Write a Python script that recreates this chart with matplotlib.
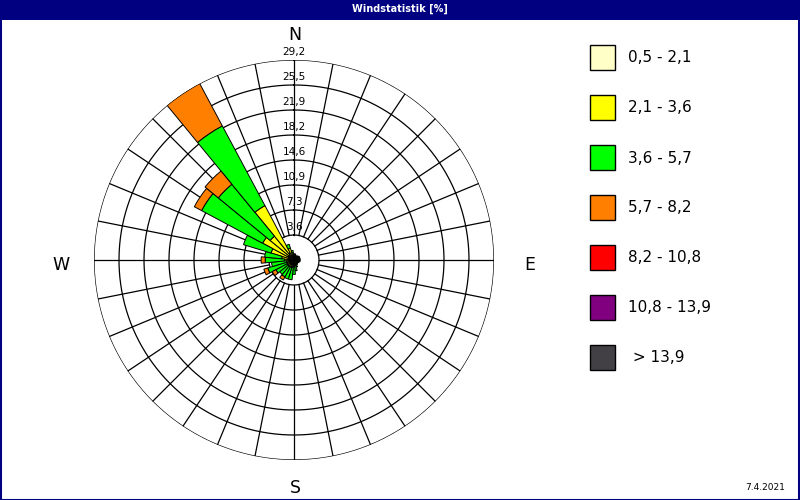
import matplotlib
matplotlib.use('Agg')
import matplotlib.pyplot as plt
import numpy as np
from matplotlib.patches import Rectangle

# 32 Richtungen, im Uhrzeigersinn ab Nord
directions = np.arange(32) * 11.25

# Anteile je Geschwindigkeitsklasse [%]
cls_05_21 = [0.4, 0.4, 0.3, 0.3, 0.2, 0.2, 0.2, 0.2, 0.2, 0.2, 0.2, 0.2, 0.3, 0.3, 0.3, 0.4,
             0.4, 0.5, 0.5, 0.5, 0.5, 0.5, 0.5, 0.5, 0.6, 0.6, 0.8, 1.0, 1.0, 1.2, 0.6, 0.5]
cls_21_36 = [0.3, 0.3, 0.2, 0.2, 0.1, 0.1, 0.1, 0.1, 0.1, 0.1, 0.1, 0.1, 0.2, 0.2, 0.3, 0.4,
             0.5, 0.6, 0.6, 0.6, 0.6, 0.6, 0.6, 0.6, 0.8, 1.2, 2.7, 4.2, 3.5, 7.8, 1.2, 0.6]
cls_36_57 = [0.2, 0.2, 0.2, 0.2, 0.5, 0.6, 0.6, 0.6, 0.6, 0.6, 0.5, 0.4, 0.2, 0.3, 0.5, 0.8,
             1.2, 1.8, 1.8, 1.7, 1.6, 1.9, 2.9, 2.2, 2.8, 2.5, 4.2, 10.1, 9.8, 13.2, 0.6, 0.3]
cls_57_82 = [0, 0, 0, 0, 0, 0, 0, 0, 0, 0, 0, 0, 0, 0, 0, 0,
             0, 0, 0, 0.5, 0, 0.6, 0.6, 0, 0.6, 0, 0, 1.2, 2.5, 7.0, 0, 0]
cls_82_108 = [0] * 32
cls_108_139 = [0] * 32
cls_139 = [0] * 32

classes = [cls_05_21, cls_21_36, cls_36_57, cls_57_82, cls_82_108, cls_108_139, cls_139]
class_labels = ['0,5 - 2,1', '2,1 - 3,6', '3,6 - 5,7', '5,7 - 8,2', '8,2 - 10,8', '10,8 - 13,9', ' > 13,9']
colors = ['#FFFFC8', '#FFFF00', '#00FF00', '#FF8000', '#FF0000', '#800080', '#424045']

ring_values = [3.6, 7.3, 10.9, 14.6, 18.2, 21.9, 25.5, 29.2]
r_max = 29.2
navy = '#000080'

W, H = 800, 500
fig = plt.figure(figsize=(8, 5), dpi=100)
fig.patch.set_facecolor('white')

# Polarachse: Mitte (294, 260) px, Radius 200 px
cx, cy, R = 294, 260, 200
ax = fig.add_axes([(cx - R) / W, (H - cy - R) / H, 2 * R / W, 2 * R / H], polar=True)
ax.set_theta_zero_location('N')
ax.set_theta_direction(-1)
ax.set_ylim(0, r_max)
ax.set_xticks([])
ax.set_yticks([])
ax.grid(False)
ax.spines['polar'].set_visible(False)
ax.patch.set_alpha(0)

# Gitter: Ringe und Speichen
t = np.linspace(0, 2 * np.pi, 500)
step = r_max / 8
for k in range(1, 9):
    ax.plot(t, [k * step] * len(t), color='black', lw=0.9, zorder=1)
for d in directions:
    ax.plot([np.deg2rad(d)] * 2, [step, r_max], color='black', lw=0.9, zorder=1)

# Balken gestapelt
theta = np.deg2rad(directions)
width = np.deg2rad(11.25)
bottom = np.zeros(32)
for vals, col in zip(classes, colors):
    vals = np.array(vals, dtype=float)
    mask = vals > 0
    ax.bar(theta[mask], vals[mask], width=width, bottom=bottom[mask], color=col,
           edgecolor='black', linewidth=0.7, zorder=3)
    bottom += vals

# Ringbeschriftung
for k, v in enumerate(ring_values, start=1):
    ax.text(0, k * step + 1.15, f'{v:.1f}'.replace('.', ','), ha='center', va='center',
            fontsize=7.5, zorder=5)

# Himmelsrichtungen
for lab, (px, py) in {'N': (295, 35), 'E': (530, 265), 'S': (295, 488), 'W': (61, 265)}.items():
    fig.text(px / W, 1 - py / H, lab, ha='center', va='center', fontsize=12.5)

# Legende
for i, (lab, col) in enumerate(zip(class_labels, colors)):
    top = 45 + i * 50
    fig.patches.append(Rectangle((590 / W, 1 - (top + 25) / H), 25 / W, 25 / H,
                                 transform=fig.transFigure, facecolor=col,
                                 edgecolor='black', lw=1.0))
    fig.text(628 / W, 1 - (top + 13) / H, lab, ha='left', va='center', fontsize=11)

# Titelleiste und Rahmen
fig.patches.append(Rectangle((0, 1 - 20 / H), 1, 20 / H, transform=fig.transFigure,
                             facecolor=navy, edgecolor='none'))
fig.patches.append(Rectangle((0.5 / W, 0.5 / H), 1 - 1.5 / W, 1 - 1.5 / H, transform=fig.transFigure,
                             facecolor='none', edgecolor=navy, lw=1.5))
fig.text(0.5, 1 - 9 / H, 'Windstatistik [%]', ha='center', va='center', color='white',
         fontsize=7, fontweight='bold')
fig.text(785 / W, 1 - 488 / H, '7.4.2021', ha='right', va='center', fontsize=6.5)

fig.savefig('out.png', dpi=100)
